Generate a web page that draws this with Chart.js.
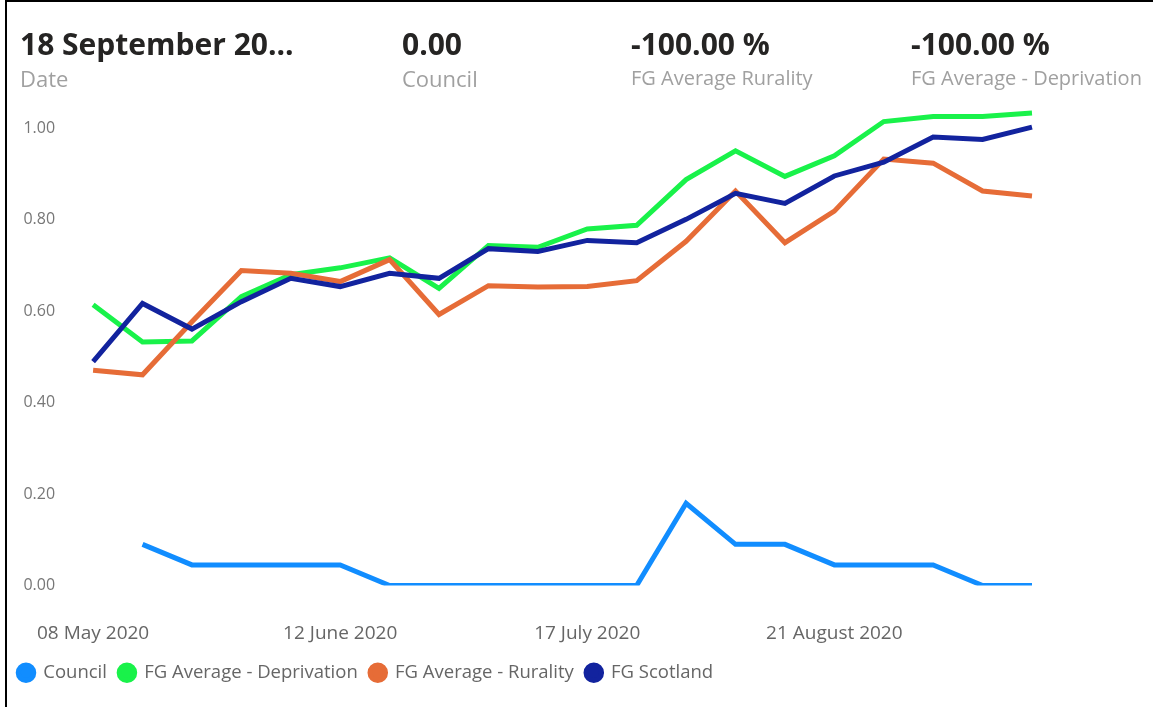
<!DOCTYPE html>
<html>
<head>
<meta charset="utf-8">
<script src="https://cdn.jsdelivr.net/npm/chart.js@4/dist/chart.umd.min.js"></script>
<style>
  html, body { margin: 0; padding: 0; background: #fff; }
  body { width: 1153px; height: 707px; position: relative; overflow: hidden; font-family: 'Segoe UI', 'Open Sans', sans-serif; }
  #marco-top { position: absolute; left: 5px; top: 0; width: 1148px; height: 2px; background: #000; }
  #marco-left { position: absolute; left: 5px; top: 0; width: 2px; height: 707px; background: #000; }
  #grafico { position: absolute; left: 0; top: 0; }
  .kpi { position: absolute; top: 25px; z-index: 2; white-space: nowrap; }
  .kpi .valor { font-size: 30px; font-weight: 700; color: #252423; line-height: 38px; }
  .kpi .nombre { font-size: 22px; color: #a0a0a0; line-height: 30px; }
  .kpi .nombre.chico { font-size: 20px; }
</style>
</head>
<body>
<div id="marco-top"></div>
<div id="marco-left"></div>
<div id="kpis"></div>
<canvas id="grafico" width="1153" height="707"></canvas>
<script>
// fechas semanales
const fechas = [
  '08 May 2020', '15 May 2020', '22 May 2020', '29 May 2020', '05 June 2020',
  '12 June 2020', '19 June 2020', '26 June 2020', '03 July 2020', '10 July 2020',
  '17 July 2020', '24 July 2020', '31 July 2020', '07 August 2020', '14 August 2020',
  '21 August 2020', '28 August 2020', '04 September 2020', '11 September 2020', '18 September 2020'
];

const council = [null, 0.09, 0.045, 0.045, 0.045, 0.045, 0, 0, 0, 0, 0, 0, 0.18, 0.09, 0.09, 0.045, 0.045, 0.045, 0, 0];
const deprivation = [0.614, 0.533, 0.535, 0.632, 0.68, 0.695, 0.717, 0.65, 0.744, 0.74, 0.78, 0.788, 0.888, 0.951, 0.895, 0.94, 1.015, 1.026, 1.026, 1.034];
const rurality = [0.471, 0.461, 0.577, 0.689, 0.683, 0.665, 0.713, 0.593, 0.656, 0.653, 0.654, 0.667, 0.753, 0.863, 0.75, 0.819, 0.933, 0.924, 0.863, 0.852];
const scotland = [0.49, 0.617, 0.561, 0.621, 0.672, 0.654, 0.683, 0.672, 0.737, 0.731, 0.755, 0.75, 0.801, 0.858, 0.836, 0.896, 0.926, 0.981, 0.976, 1.003];

const yTicks = [0, 0.2, 0.4, 0.6, 0.8, 1.0];

// tarjetas de arriba
const tarjetas = [
  { valor: '18 September 20...', nombre: 'Date', x: 20, chico: false },
  { valor: '0.00', nombre: 'Council', x: 402, chico: false },
  { valor: '-100.00 %', nombre: 'FG Average Rurality', x: 631, chico: true },
  { valor: '-100.00 %', nombre: 'FG Average - Deprivation', x: 911, chico: true }
];
const kpis = document.getElementById('kpis');
tarjetas.forEach(t => {
  const d = document.createElement('div');
  d.className = 'kpi';
  d.style.left = t.x + 'px';
  d.innerHTML = `<div class="valor">${t.valor}</div><div class="nombre${t.chico ? ' chico' : ''}">${t.nombre}</div>`;
  kpis.appendChild(d);
});

Chart.defaults.font.family = "'Segoe UI', 'Open Sans', sans-serif";
Chart.defaults.color = '#666';

function serie(label, data, color, order) {
  return {
    label, data, order,
    borderColor: color,
    backgroundColor: color,
    borderWidth: 5,
    borderJoinStyle: 'miter',
    pointRadius: 0,
    pointHoverRadius: 0,
    tension: 0,
    spanGaps: false
  };
}

new Chart(document.getElementById('grafico'), {
  type: 'line',
  data: {
    labels: fechas,
    datasets: [
      serie('Council', council, '#118DFF', 3),
      serie('FG Average - Deprivation', deprivation, '#19F24A', 2),
      serie('FG Average - Rurality', rurality, '#E66C37', 1),
      serie('FG Scotland', scotland, '#12239E', 0)
    ]
  },
  options: {
    responsive: false,
    animation: false,
    layout: { padding: { top: 101, left: 6, right: 121, bottom: 15 } },
    plugins: {
      tooltip: { enabled: false },
      legend: {
        position: 'bottom',
        align: 'start',
        labels: {
          usePointStyle: true,
          pointStyle: 'circle',
          boxWidth: 16,
          boxHeight: 11,
          padding: 12,
          color: '#666',
          font: { size: 18.5 },
          sort: (a, b) => a.datasetIndex - b.datasetIndex
        }
      }
    },
    scales: {
      x: {
        grid: { display: false, drawTicks: false },
        border: { display: false },
        afterFit: s => { s.height = 66; },
        ticks: {
          autoSkip: false,
          maxRotation: 0,
          padding: 37,
          color: '#666',
          font: { size: 19 },
          callback: (v, i) => i % 5 === 0 ? fechas[i] : ''
        }
      },
      y: {
        min: 0,
        max: 1.06,
        grid: { display: false, drawTicks: false },
        border: { display: false },
        afterFit: s => { s.width = 86; },
        afterBuildTicks: s => { s.ticks = yTicks.map(v => ({ value: v })); },
        ticks: {
          padding: 38,
          color: '#777',
          font: { size: 16 },
          callback: v => v.toFixed(2)
        }
      }
    }
  }
});
</script>
</body>
</html>
